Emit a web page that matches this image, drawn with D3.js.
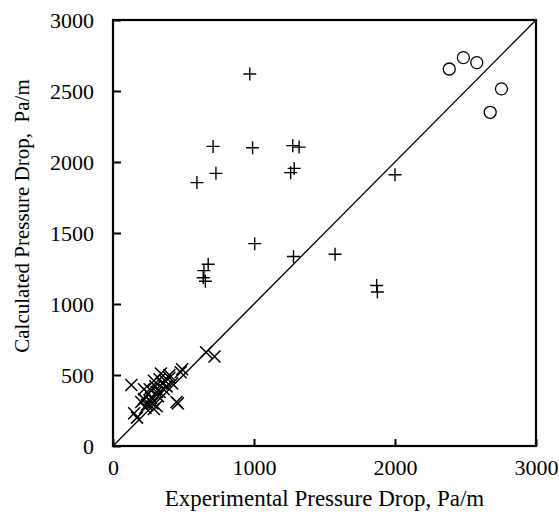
<!DOCTYPE html>
<html>
<head>
<meta charset="utf-8">
<script src="https://cdn.jsdelivr.net/npm/d3@7"></script>
<style>
  body { margin: 0; background: #fff; }
  text { font-family: "Liberation Serif", "Times New Roman", serif; fill: #000; }
  .x-title { font-size: 23px; }
  .y-title { font-size: 21px; }
  .tick-label { font-size: 22px; }
</style>
</head>
<body>
<div class="container"></div>
<script>
// values (Pa/m)
const xTicks = [0, 1000, 2000, 3000];
const yTicks = [0, 500, 1000, 1500, 2000, 2500, 3000];

// "+" series
const plusExp  = [970, 710, 990, 1275, 1320, 595, 730, 1260, 1285, 1005, 1280, 1575, 2000, 1870, 1875, 675, 645, 640, 655];
const plusCalc = [2620, 2110, 2100, 2115, 2105, 1855, 1920, 1925, 1955, 1425, 1335, 1350, 1910, 1130, 1085, 1280, 1235, 1185, 1160];

// "x" series
const crossExp  = [130, 150, 170, 200, 220, 240, 250, 260, 270, 280, 290, 300, 310, 320, 330, 340, 350, 360, 370, 380,
                   400, 420, 450, 460, 480, 490, 310, 230, 260, 290, 330, 220, 400, 660, 720];
const crossCalc = [430, 230, 200, 310, 330, 290, 370, 400, 340, 300, 260, 420, 380, 350, 470, 510, 440, 400, 460, 420,
                   480, 440, 310, 300, 520, 540, 280, 270, 320, 460, 380, 400, 500, 660, 630];

// "o" series
const circExp  = [2385, 2485, 2580, 2755, 2675];
const circCalc = [2655, 2735, 2700, 2515, 2350];

const width = 559, height = 514;
const margin = {left: 113, right: 23, top: 20, bottom: 68};
const plotWidth = width - margin.left - margin.right;
const plotHeight = height - margin.top - margin.bottom;

const svg = d3.select(".container")
              .append("svg")
              .attr("width", width)
              .attr("height", height);

const plot = svg.append("g")
                .attr("transform", `translate(${margin.left},${margin.top})`);

const x = d3.scaleLinear().domain([0, 3000]).range([0, plotWidth]);
const y = d3.scaleLinear().domain([0, 3000]).range([plotHeight, 0]);

// 1:1 line
plot.append("line")
    .attr("x1", x(0)).attr("y1", y(0))
    .attr("x2", x(3000)).attr("y2", y(3000))
    .attr("stroke", "#000")
    .attr("stroke-width", 1.3);

// plus markers
plot.selectAll(".plus")
    .data(d3.zip(plusExp, plusCalc))
    .join("path")
    .attr("class", "plus")
    .attr("d", "M-6.5,0H6.5M0,-6.5V6.5")
    .attr("transform", d => `translate(${x(d[0])},${y(d[1])})`)
    .attr("fill", "none")
    .attr("stroke", "#000")
    .attr("stroke-width", 1.4);

// cross markers
plot.selectAll(".cross")
    .data(d3.zip(crossExp, crossCalc))
    .join("path")
    .attr("class", "cross")
    .attr("d", "M-6,-6L6,6M-6,6L6,-6")
    .attr("transform", d => `translate(${x(d[0])},${y(d[1])})`)
    .attr("fill", "none")
    .attr("stroke", "#000")
    .attr("stroke-width", 1.5);

// circle markers
plot.selectAll(".circ")
    .data(d3.zip(circExp, circCalc))
    .join("circle")
    .attr("class", "circ")
    .attr("cx", d => x(d[0]))
    .attr("cy", d => y(d[1]))
    .attr("r", 6)
    .attr("fill", "none")
    .attr("stroke", "#000")
    .attr("stroke-width", 1.3);

// axes, ticks inward
const xAxis = d3.axisBottom(x).tickValues(xTicks).tickFormat(d3.format("d"))
                .tickSize(-7).tickPadding(13);
const yAxis = d3.axisLeft(y).tickValues(yTicks).tickFormat(d3.format("d"))
                .tickSize(-8).tickPadding(19);

const gx = plot.append("g")
               .attr("transform", `translate(0,${plotHeight})`)
               .call(xAxis);
const gy = plot.append("g").call(yAxis);

[gx, gy].forEach(g => {
  g.select(".domain").remove();
  g.selectAll(".tick line").attr("stroke", "#000").attr("stroke-width", 2);
  g.selectAll(".tick text")
   .attr("class", "tick-label")
   .attr("font-family", null)
   .attr("font-size", null);
});

// frame
plot.append("rect")
    .attr("width", plotWidth)
    .attr("height", plotHeight)
    .attr("fill", "none")
    .attr("stroke", "#000")
    .attr("stroke-width", 2.2);

svg.append("text")
   .attr("x", margin.left + plotWidth / 2)
   .attr("y", 506)
   .attr("text-anchor", "middle")
   .attr("class", "x-title")
   .text("Experimental Pressure Drop, Pa/m");

svg.append("text")
   .attr("x", 0)
   .attr("y", 0)
   .attr("text-anchor", "middle")
   .attr("class", "y-title")
   .attr("transform", "translate(29,216) rotate(-90)")
   .style("white-space", "pre")
   .text("Calculated Pressure Drop,  Pa/m");
</script>
</body>
</html>
